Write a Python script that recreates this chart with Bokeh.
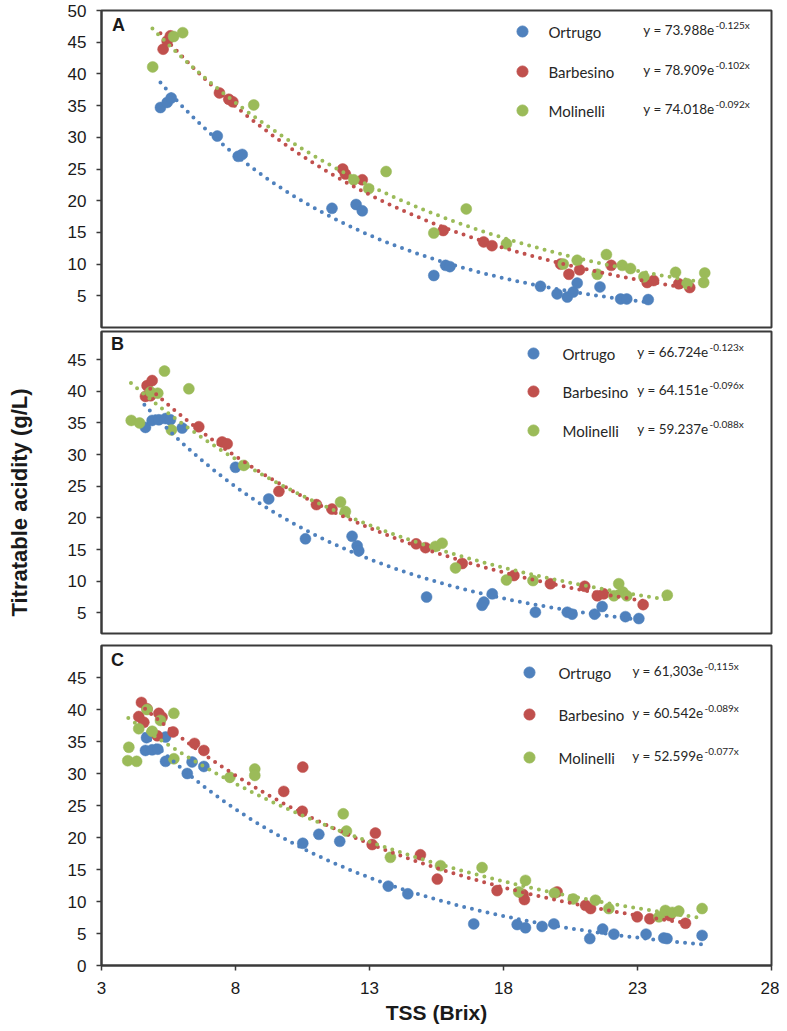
import numpy as np
from bokeh.plotting import figure
from bokeh.models import Label, FixedTicker, Range1d
from bokeh.layouts import column, row
from bokeh.embed import file_html
from bokeh.resources import INLINE

# ---------------- data ----------------
series_names = ["Ortrugo", "Barbesino", "Molinelli"]
series_colors = ["#4F81BD", "#C0504D", "#9BBB59"]
x_ticks = [3, 8, 13, 18, 23, 28]

# Panel A
a_ortrugo_x = [5.2, 5.45, 5.6, 7.32, 8.1, 8.25, 11.6, 12.5, 12.73, 15.4, 15.84, 16.0, 19.38, 20.0, 20.38, 20.6, 20.75, 21.6, 22.37, 22.6, 23.4]
a_ortrugo_y = [34.7, 35.5, 36.2, 30.2, 27.0, 27.3, 18.8, 19.4, 18.4, 8.2, 9.8, 9.6, 6.5, 5.3, 4.8, 5.6, 7.0, 6.4, 4.5, 4.5, 4.4]
a_barbesino_x = [5.3, 5.45, 5.57, 7.4, 7.75, 7.9, 12.0, 12.1, 12.73, 15.75, 17.26, 17.57, 20.13, 20.44, 20.84, 22.02, 23.36, 23.6, 24.54, 24.95]
a_barbesino_y = [43.9, 45.2, 46.0, 37.0, 36.0, 35.6, 25.0, 24.2, 23.3, 15.3, 13.5, 12.9, 10.0, 8.4, 9.1, 9.8, 7.1, 7.4, 6.9, 6.3]
a_molinelli_x = [4.91, 5.69, 6.03, 8.68, 12.41, 12.97, 13.62, 15.4, 16.61, 18.11, 20.23, 20.75, 21.5, 21.84, 22.43, 22.74, 23.24, 24.42, 24.85, 25.47, 25.51]
a_molinelli_y = [41.1, 45.9, 46.5, 35.1, 23.3, 21.9, 24.6, 14.9, 18.7, 13.2, 10.0, 10.6, 8.4, 11.5, 9.8, 9.3, 8.0, 8.7, 6.9, 7.1, 8.6]
a_fit_a = [73.988, 78.909, 74.018]
a_fit_b = [-0.125, -0.102, -0.092]
a_fit_xmin = [5.2, 5.2, 4.9]
a_fit_xmax = [23.5, 25.0, 25.5]
a_eq_main = ["y = 73.988e", "y = 78.909e", "y = 74.018e"]
a_eq_sup = ["-0.125x", "-0.102x", "-0.092x"]

# Panel B
b_ortrugo_x = [4.64, 4.89, 5.14, 5.39, 5.57, 6.01, 8.0, 9.24, 10.61, 12.35, 12.54, 12.6, 15.13, 17.2, 17.27, 17.58, 19.19, 20.38, 20.56, 21.4, 21.68, 22.55, 23.05]
b_ortrugo_y = [34.3, 35.4, 35.5, 35.7, 35.5, 34.2, 28.0, 23.0, 16.7, 17.1, 15.6, 14.8, 7.5, 6.2, 6.7, 8.0, 5.1, 5.1, 4.8, 4.8, 6.0, 4.4, 4.1]
b_barbesino_x = [4.64, 4.70, 4.83, 4.89, 6.63, 7.50, 7.69, 9.62, 11.02, 11.6, 14.74, 15.09, 16.46, 18.39, 19.75, 21.03, 21.5, 21.74, 23.21]
b_barbesino_y = [39.2, 40.9, 39.3, 41.7, 34.4, 32.0, 31.7, 24.2, 22.1, 21.4, 15.9, 15.3, 12.8, 10.9, 9.6, 9.2, 7.7, 8.0, 6.3]
b_molinelli_x = [4.11, 4.42, 4.83, 5.10, 5.35, 5.61, 6.26, 8.31, 11.92, 12.10, 15.46, 15.71, 16.21, 18.11, 19.1, 22.12, 22.3, 22.45, 22.6, 24.11]
b_molinelli_y = [35.4, 35.0, 39.9, 39.7, 43.2, 33.9, 40.4, 28.3, 22.5, 21.0, 15.5, 16.0, 12.1, 10.2, 10.1, 7.7, 9.6, 8.3, 7.7, 7.8]
b_fit_a = [66.724, 64.151, 59.237]
b_fit_b = [-0.123, -0.096, -0.088]
b_fit_xmin = [4.6, 4.6, 4.1]
b_fit_xmax = [23.1, 23.3, 24.2]
b_eq_main = ["y = 66.724e", "y = 64.151e", "y = 59.237e"]
b_eq_sup = ["-0.123x", "-0.096x", "-0.088x"]

# Panel C
c_ortrugo_x = [4.64, 4.68, 4.89, 5.1, 5.39, 5.39, 6.20, 6.38, 6.82, 10.51, 11.11, 11.89, 13.70, 14.43, 16.89, 18.51, 18.82, 19.44, 19.88, 21.22, 21.7, 22.12, 23.32, 23.98, 24.1, 25.41]
c_ortrugo_y = [33.6, 35.6, 33.7, 33.8, 35.7, 31.9, 30.0, 31.8, 31.1, 19.1, 20.5, 19.4, 12.4, 11.2, 6.5, 6.4, 5.9, 6.1, 6.5, 4.2, 5.7, 4.9, 4.9, 4.3, 4.2, 4.7]
c_barbesino_x = [4.39, 4.49, 4.58, 4.70, 5.08, 5.14, 5.26, 5.67, 6.47, 6.82, 9.80, 10.49, 10.51, 13.1, 13.22, 14.9, 15.53, 17.76, 18.73, 18.78, 20.0, 21.06, 21.25, 22.99, 23.46, 24.2, 24.79]
c_barbesino_y = [38.9, 41.1, 38.0, 40.1, 35.9, 39.4, 38.8, 36.5, 34.7, 33.6, 27.2, 24.1, 31.0, 18.9, 20.7, 17.3, 13.5, 11.7, 11.1, 10.3, 11.5, 9.4, 8.9, 7.6, 7.3, 7.8, 6.6]
c_molinelli_x = [3.98, 4.02, 4.31, 4.39, 4.70, 4.89, 5.2, 5.70, 5.70, 7.79, 8.72, 8.72, 12.02, 12.14, 13.78, 15.65, 17.2, 18.57, 18.82, 19.9, 20.6, 21.43, 21.93, 23.8, 24.04, 24.3, 24.54, 25.41]
c_molinelli_y = [32.0, 34.1, 31.9, 37.0, 40.0, 36.6, 38.3, 39.4, 32.3, 29.4, 30.7, 29.7, 23.7, 21.0, 16.9, 15.6, 15.3, 11.5, 13.3, 11.3, 10.4, 10.2, 8.9, 7.6, 8.6, 8.3, 8.5, 8.9]
c_fit_a = [61.303, 60.542, 52.599]
c_fit_b = [-0.115, -0.089, -0.077]
c_fit_xmin = [4.6, 4.4, 4.0]
c_fit_xmax = [25.4, 24.8, 25.4]
c_eq_main = ["y = 61,303e", "y = 60.542e", "y = 52.599e"]
c_eq_sup = ["-0,115x", "-0.089x", "-0.077x"]

a_yticks = [5, 10, 15, 20, 25, 30, 35, 40, 45, 50]
b_yticks = [5, 10, 15, 20, 25, 30, 35, 40, 45]
c_yticks = [0, 5, 10, 15, 20, 25, 30, 35, 40, 45]

# ---------------- layout constants (page pixels) ----------------
LABEL_COL_W = 40
FRAME_LEFT = 101
FRAME_W = 670
X_MIN, X_MAX = 3, 28
TICK_FONT = "Liberation Sans"
LEG_FONT = "Lato"
AXIS_COLOR = "#3a3a3a"
TEXT_COLOR = "#1a1a1a"

panels = [
    dict(letter="A", ymin=0, ymax=50, yticks=a_yticks, ftop=10, fh=317, btop=10, bbot=2,
         xs=[a_ortrugo_x, a_barbesino_x, a_molinelli_x], ys=[a_ortrugo_y, a_barbesino_y, a_molinelli_y],
         fa=a_fit_a, fb=a_fit_b, fx0=a_fit_xmin, fx1=a_fit_xmax, eqm=a_eq_main, eqs=a_eq_sup,
         leg_mx=522, leg_rows=[31, 71, 110], leg_tx=548, eq_right=714, letter_px=(118, 24)),
    dict(letter="B", ymin=1.74, ymax=49.45, yticks=b_yticks, ftop=331, fh=302, btop=2, bbot=4,
         xs=[b_ortrugo_x, b_barbesino_x, b_molinelli_x], ys=[b_ortrugo_y, b_barbesino_y, b_molinelli_y],
         fa=b_fit_a, fb=b_fit_b, fx0=b_fit_xmin, fx1=b_fit_xmax, eqm=b_eq_main, eqs=b_eq_sup,
         leg_mx=533, leg_rows=[353, 391, 430], leg_tx=562, eq_right=708, letter_px=(117, 343)),
    dict(letter="C", ymin=0, ymax=50, yticks=c_yticks, ftop=645, fh=320, btop=8, bbot=58,
         xs=[c_ortrugo_x, c_barbesino_x, c_molinelli_x], ys=[c_ortrugo_y, c_barbesino_y, c_molinelli_y],
         fa=c_fit_a, fb=c_fit_b, fx0=c_fit_xmin, fx1=c_fit_xmax, eqm=c_eq_main, eqs=c_eq_sup,
         leg_mx=529, leg_rows=[672, 714, 757], leg_tx=558, eq_right=703, letter_px=(117, 659)),
]


def to_data(pn, px, py):
    x = X_MIN + (px - FRAME_LEFT) / FRAME_W * (X_MAX - X_MIN)
    y = pn["ymax"] - (py - pn["ftop"]) / pn["fh"] * (pn["ymax"] - pn["ymin"])
    return x, y


figs = []
for i, pn in enumerate(panels):
    last = i == len(panels) - 1
    p = figure(frame_width=FRAME_W, frame_height=pn["fh"],
               x_range=Range1d(X_MIN, X_MAX), y_range=Range1d(pn["ymin"], pn["ymax"]),
               output_backend="svg", toolbar_location=None,
               min_border_left=FRAME_LEFT - LABEL_COL_W, min_border_right=8,
               min_border_top=pn["btop"], min_border_bottom=pn["bbot"],
               x_axis_location="below" if last else None)
    p.grid.visible = False
    p.outline_line_color = AXIS_COLOR
    p.outline_line_width = 2
    p.background_fill_color = "white"
    p.border_fill_color = "white"

    p.yaxis.ticker = FixedTicker(ticks=pn["yticks"])
    axes = list(p.yaxis) + (list(p.xaxis) if last else [])
    for ax in axes:
        ax.axis_line_color = AXIS_COLOR
        ax.axis_line_width = 2
        ax.major_tick_in = 0
        ax.major_tick_out = 5
        ax.major_tick_line_color = AXIS_COLOR
        ax.major_tick_line_width = 1.5
        ax.minor_tick_in = 0
        ax.minor_tick_out = 0
        ax.major_label_text_font = TICK_FONT
        ax.major_label_text_font_size = "17px"
        ax.major_label_text_color = TEXT_COLOR
    p.yaxis.major_label_standoff = 10
    if last:
        p.xaxis.ticker = FixedTicker(ticks=x_ticks)
        p.xaxis.major_label_standoff = 11
        p.xaxis.axis_label = "TSS (Brix)"
        p.xaxis.axis_label_text_font = TICK_FONT
        p.xaxis.axis_label_text_font_style = "bold"
        p.xaxis.axis_label_text_font_size = "21px"
        p.xaxis.axis_label_text_color = TEXT_COLOR
        p.xaxis.axis_label_standoff = 4

    # data markers
    for k in range(3):
        p.scatter(pn["xs"][k], pn["ys"][k], size=11, color=series_colors[k],
                  line_color=series_colors[k], line_width=0.5)
    # exponential trend lines (from the fitted equations shown)
    for k in range(3):
        xx = np.linspace(pn["fx0"][k], pn["fx1"][k], 200)
        yy = pn["fa"][k] * np.exp(pn["fb"][k] * xx)
        p.line(xx, yy, line_color=series_colors[k], line_width=4,
               line_dash="0 8", line_cap="round")

    # legend + equations
    for k in range(3):
        rw = pn["leg_rows"][k]
        mx, my = to_data(pn, pn["leg_mx"], rw)
        p.scatter([mx], [my], size=11, color=series_colors[k])
        tx, ty = to_data(pn, pn["leg_tx"], rw)
        p.add_layout(Label(x=tx, y=ty, text=series_names[k], text_font=LEG_FONT,
                           text_font_size="15px", text_color="#262626",
                           text_align="left", text_baseline="middle"))
        ex, ey = to_data(pn, pn["eq_right"], rw - 2)
        p.add_layout(Label(x=ex, y=ey, text=pn["eqm"][k], text_font=LEG_FONT,
                           text_font_size="13.5px", text_color="#262626",
                           text_align="right", text_baseline="middle"))
        sx, sy = to_data(pn, pn["eq_right"] + 1, rw - 7)
        p.add_layout(Label(x=sx, y=sy, text=pn["eqs"][k], text_font=LEG_FONT,
                           text_font_size="10px", text_color="#262626",
                           text_align="left", text_baseline="middle"))

    lx, ly = to_data(pn, *pn["letter_px"])
    p.add_layout(Label(x=lx, y=ly, text=pn["letter"], text_font=TICK_FONT,
                       text_font_style="bold", text_font_size="18px", text_color=TEXT_COLOR,
                       text_align="center", text_baseline="middle"))
    figs.append(p)

# narrow column holding the shared y-axis title
TOTAL_H = 1023
yfig = figure(frame_width=LABEL_COL_W, frame_height=TOTAL_H,
              x_range=Range1d(0, LABEL_COL_W), y_range=Range1d(TOTAL_H, 0),
              output_backend="svg", toolbar_location=None,
              x_axis_location=None, y_axis_location=None,
              min_border_left=0, min_border_right=0, min_border_top=0, min_border_bottom=0)
yfig.grid.visible = False
yfig.outline_line_color = None
yfig.add_layout(Label(x=19, y=502, text="Titratable acidity (g/L)", angle=np.pi / 2,
                      text_font=TICK_FONT, text_font_style="bold", text_font_size="22px",
                      text_color=TEXT_COLOR, text_align="center", text_baseline="middle"))

layout = row(yfig, column(*figs, spacing=0), spacing=0)
open("out.html", "w").write(file_html(layout, INLINE))
